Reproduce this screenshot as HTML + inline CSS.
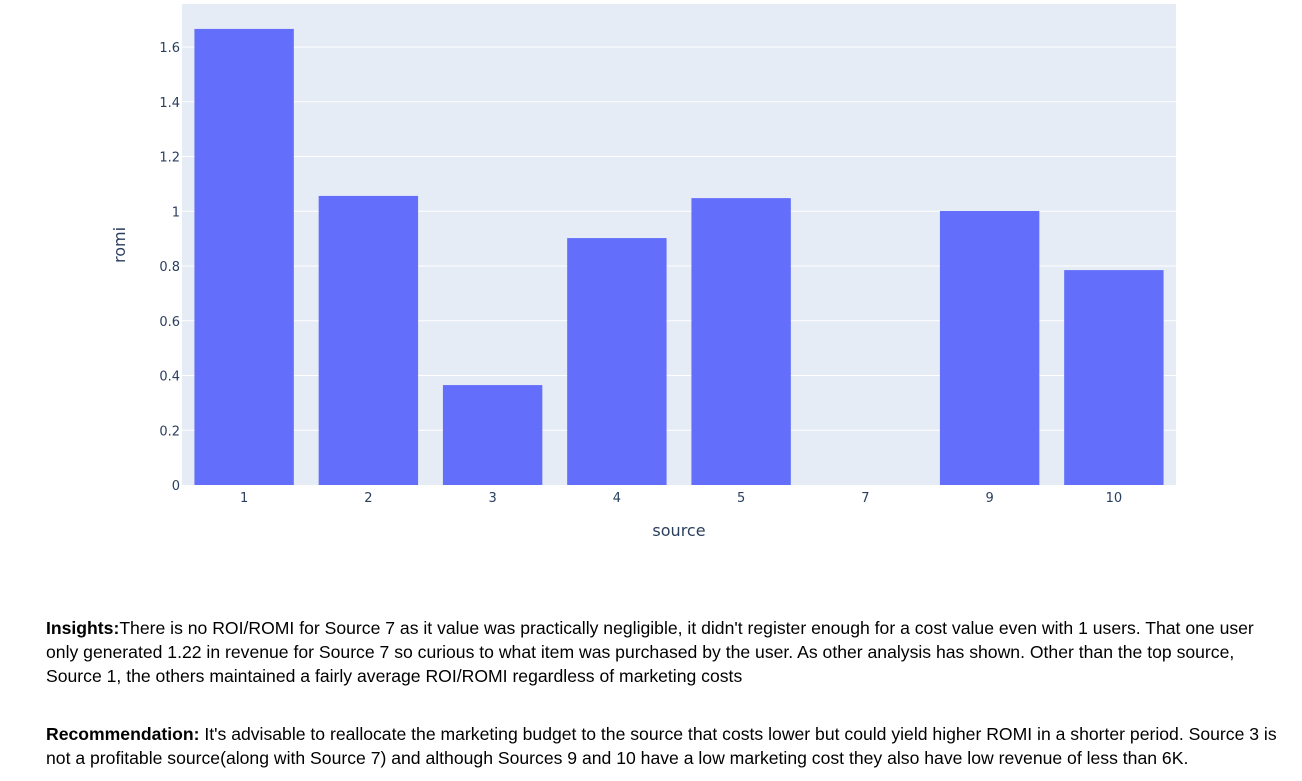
<!DOCTYPE html>
<html><head><meta charset="utf-8"><style>
body{margin:0;width:1302px;height:781px;background:#fff;overflow:hidden;font-family:"Liberation Sans",sans-serif;}
.txt{position:absolute;left:46px;width:1232px;font-size:17.6px;line-height:24px;color:#000;}
</style></head><body>
<svg id="chart" width="1302" height="560" style="position:absolute;left:0;top:0"></svg>
<div class="txt" style="top:616px"><b>Insights:</b>There is no ROI/ROMI for Source 7 as it value was practically negligible, it didn't register enough for a cost value even with 1 users. That one user only generated 1.22 in revenue for Source 7 so curious to what item was purchased by the user. As other analysis has shown. Other than the top source, Source 1, the others maintained a fairly average ROI/ROMI regardless of marketing costs</div>
<div class="txt" style="top:722px"><b>Recommendation:</b> It's advisable to reallocate the marketing budget to the source that costs lower but could yield higher ROMI in a shorter period. Source 3 is not a profitable source(along with Source 7) and although Sources 9 and 10 have a low marketing cost they also have low revenue of less than 6K.</div>
<script>
const categories=["1","2","3","4","5","7","9","10"];
const romiValues=[1.666,1.056,0.365,0.902,1.048,0,1.001,0.785];
const yTicks=[0,0.2,0.4,0.6,0.8,1,1.2,1.4,1.6];
const tickLabels=["0","0.2","0.4","0.6","0.8","1","1.2","1.4","1.6"];
const NS="http://www.w3.org/2000/svg";
const svg=document.getElementById('chart');
const L=182,R=1176,T=4,B=485,unit=273.75;
const y=v=>B-v*unit;
const band=(R-L)/categories.length;
const x=i=>L+band*(i+0.5);
function mk(t,a){const e=document.createElementNS(NS,t);for(const k in a)e.setAttribute(k,a[k]);svg.appendChild(e);return e;}
let bg=mk('rect',{x:L,y:T,width:R-L,height:B-T,fill:'#e5ecf6'});


yTicks.forEach((v,i)=>{
 if(i>0){let g=mk('line',{x1:L,x2:R,y1:y(v),y2:y(v),stroke:'#fff','stroke-width':1});
 
 }
 let t=mk('text',{x:L-2,y:y(v)+5,'text-anchor':'end','font-size':13,fill:'#2a3f5f','font-family':'DejaVu Sans, sans-serif'});
 t.textContent=tickLabels[i];
 
 
});
categories.forEach((c,i)=>{
 const bw=band*0.8;
 let r=mk('rect',{x:x(i)-bw/2,y:y(romiValues[i]),width:bw,height:B-y(romiValues[i]),fill:'#636efa'});
 
 
 let t=mk('text',{x:x(i),y:B+17,'text-anchor':'middle','font-size':13,fill:'#2a3f5f','font-family':'DejaVu Sans, sans-serif'});
 t.textContent=c;
 
 
});
let xt=mk('text',{x:(L+R)/2,y:536,'text-anchor':'middle','font-size':16,fill:'#2a3f5f','font-family':'DejaVu Sans, sans-serif'});
xt.textContent='source';


let yt=mk('text',{x:0,y:0,transform:'translate(125,245) rotate(-90)','text-anchor':'middle','font-size':16,fill:'#2a3f5f','font-family':'DejaVu Sans, sans-serif'});
yt.textContent='romi';


</script>
</body></html>
